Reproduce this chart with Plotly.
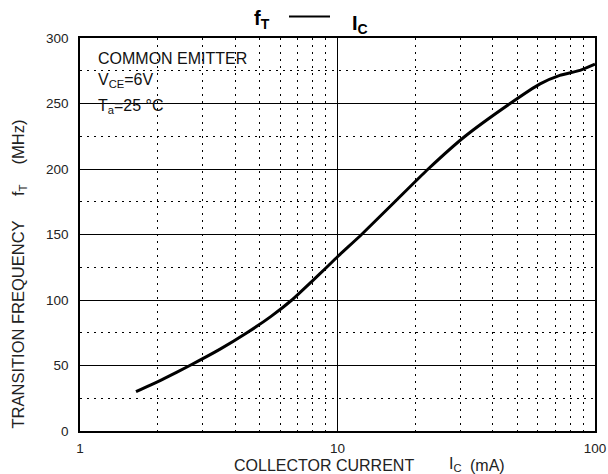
import plotly.graph_objects as go

# Data (collector current mA, transition frequency MHz)
ic_ma = [1.65, 2.12, 2.67, 3.5, 4.45, 5.52, 6.65, 8.03, 9.08, 10.0, 12.4, 16.7, 22.5, 31.3, 46.8, 61.2, 73.0, 87.5, 100.0]
ft_mhz = [30, 40, 50, 62.5, 75, 87.5, 100, 115, 125, 133, 150, 175, 200, 225, 250, 265, 271.5, 275.3, 280]

x_ticks = [1, 10, 100]
y_ticks = [0, 50, 100, 150, 200, 250, 300]

FONT = "Liberation Sans, Arial, sans-serif"

fig = go.Figure()
fig.add_trace(go.Scatter(x=ic_ma, y=ft_mhz, mode="lines",
                         line=dict(color="black", width=3, shape="spline", smoothing=0.5),
                         showlegend=False, hoverinfo="skip"))

L, R, T, B = 80, 13, 38, 43
W, H = 608, 474
pw, ph = W - L - R, H - T - B


def px(xp):
    return (xp - L) / pw


def py(yp):
    return (H - B - yp) / ph


fig.update_layout(
    width=W, height=H,
    margin=dict(l=L, r=R, t=T, b=B, pad=0, autoexpand=False),
    paper_bgcolor="white", plot_bgcolor="white",
    font=dict(family=FONT, size=13, color="#222"),
    xaxis=dict(type="log", range=[0, 2], tickvals=x_ticks, ticktext=[str(v) for v in x_ticks],
               showgrid=True, gridcolor="black", gridwidth=1, automargin=False,
               minor=dict(dtick="D1", showgrid=True, gridcolor="black", gridwidth=1,
                          griddash="2px,5px", ticks=""),
               showline=True, linecolor="black", linewidth=1.5, mirror=True,
               ticks="", zeroline=False, tickfont=dict(size=13.5, color="#222"),
               ticklabelstandoff=4),
    yaxis=dict(range=[0, 300], tickvals=y_ticks, ticktext=[str(v) for v in y_ticks],
               showgrid=True, gridcolor="black", gridwidth=1, automargin=False,
               minor=dict(dtick=25, showgrid=True, gridcolor="black", gridwidth=1,
                          griddash="2px,5px", ticks=""),
               showline=True, linecolor="black", linewidth=1.5, mirror=True,
               ticks="", zeroline=False, tickfont=dict(size=13.5, color="#222"),
               ticklabelstandoff=7),
)

# white box behind condition text
fig.add_shape(type="rect", xref="paper", yref="paper",
              x0=px(89), x1=px(256), y0=py(122), y1=py(42),
              fillcolor="white", line=dict(width=0), layer="between")

ann = []
cond_font = dict(size=16, color="#111")
ann.append(dict(x=px(96), y=py(58), text="COMMON EMITTER", xanchor="left", yanchor="middle",
                font=cond_font))
ann.append(dict(x=px(96), y=py(80.5), text="V<sub>CE</sub>=6V", xanchor="left", yanchor="middle",
                font=cond_font))
ann.append(dict(x=px(96), y=py(106.5), text="T<sub>a</sub>=25 °C", xanchor="left", yanchor="middle",
                font=cond_font))

# title
ann.append(dict(x=px(252), y=py(20), text="<b>f<sub>T</sub></b>", xanchor="left", yanchor="middle",
                font=dict(size=20, color="black")))
ann.append(dict(x=px(350), y=py(25), text="<b>I<sub>C</sub></b>", xanchor="left", yanchor="middle",
                font=dict(size=20, color="black")))

# x axis title pieces
xt_font = dict(size=16, color="#222")
ann.append(dict(x=px(232), y=py(465), text="COLLECTOR CURRENT", xanchor="left", yanchor="middle",
                font=xt_font))
ann.append(dict(x=px(447), y=py(464), text="I<sub>C</sub>", xanchor="left", yanchor="middle",
                font=xt_font))
ann.append(dict(x=px(468), y=py(465), text="(mA)", xanchor="left", yanchor="middle",
                font=xt_font))

# y axis title pieces (rotated)
ann.append(dict(x=px(17), y=py(324.5), textangle=-90, text="TRANSITION FREQUENCY",
                xanchor="center", yanchor="middle", font=dict(size=16.5, color="#222")))
ann.append(dict(x=px(19), y=py(190), textangle=-90, text="f<sub>T</sub>",
                xanchor="center", yanchor="middle", font=dict(size=16.5, color="#222")))
ann.append(dict(x=px(17), y=py(142.5), textangle=-90, text="(MHz)",
                xanchor="center", yanchor="middle", font=dict(size=16.5, color="#222")))

for a in ann:
    a.update(xref="paper", yref="paper", showarrow=False)
fig.update_layout(annotations=ann)

# legend-style line in title
fig.add_shape(type="line", xref="paper", yref="paper",
              x0=px(289), x1=px(330), y0=py(16.5), y1=py(16.5),
              line=dict(color="black", width=2))

fig.write_html("out.html")
